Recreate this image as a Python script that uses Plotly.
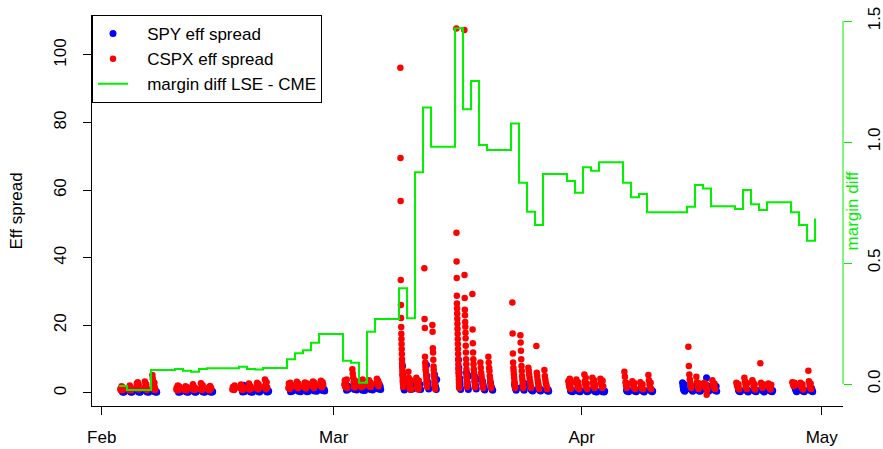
import plotly.graph_objects as go
import pandas as pd

# ---------------- data ----------------
CSPX_SESSION = ("08:00", "16:30")   # UTC, LSE hours
SPY_SESSION = ("14:30", "21:00")    # UTC, NYSE hours

CSPX = {
    "2020-02-03": [1.2, 0.8, 1.5, 2.0, 1.0, 1.3, 0.9, 1.6],
    "2020-02-04": [1.0, 1.4, 0.9, 2.2, 1.1, 1.7, 0.8],
    "2020-02-05": [1.5, 2.8, 1.2, 3.2, 1.8, 2.4, 1.0],
    "2020-02-06": [1.3, 3.4, 2.0, 1.1, 2.6, 1.5, 0.9],
    "2020-02-07": [5.3, 4.2, 1.4, 2.2, 1.0, 3.0, 1.6, 0.9],
    "2020-02-10": [1.0, 1.6, 0.8, 2.2, 1.3, 0.9, 1.9],
    "2020-02-11": [0.9, 1.4, 2.0, 1.1, 0.8, 1.7],
    "2020-02-12": [1.2, 2.6, 1.0, 1.8, 0.9, 1.5],
    "2020-02-13": [1.1, 2.9, 1.6, 0.9, 2.3, 1.3],
    "2020-02-14": [1.0, 1.7, 0.8, 2.1, 1.2, 1.5],
    "2020-02-17": [1.0, 1.8, 1.3, 0.9, 2.2, 1.5],
    "2020-02-18": [1.4, 2.5, 1.1, 1.9, 0.9, 1.6],
    "2020-02-19": [1.2, 2.8, 1.6, 1.0, 2.0, 1.3],
    "2020-02-20": [1.5, 3.0, 2.2, 1.1, 2.6, 1.4],
    "2020-02-21": [1.8, 4.0, 2.4, 1.2, 3.2, 1.6],
    "2020-02-24": [1.5, 2.8, 2.0, 1.2, 3.0, 1.7, 2.4],
    "2020-02-25": [1.8, 3.3, 2.2, 1.4, 2.7, 1.9],
    "2020-02-26": [1.6, 3.1, 2.5, 1.3, 2.0, 2.8],
    "2020-02-27": [2.0, 3.4, 2.6, 1.5, 3.0, 2.2],
    "2020-02-28": [2.2, 3.6, 2.8, 1.7, 3.2, 2.4],
    "2020-03-02": [2.5, 3.8, 1.8, 3.0, 2.2, 4.0, 1.5],
    "2020-03-03": [7.0, 5.8, 4.6, 3.2, 2.0, 2.8, 1.6, 3.6],
    "2020-03-04": [2.2, 3.5, 1.7, 2.8, 4.0, 2.0],
    "2020-03-05": [2.6, 3.8, 2.0, 3.2, 1.8, 2.4],
    "2020-03-06": [3.0, 4.2, 2.4, 3.6, 2.0, 2.8],
    "2020-03-09": [96.2, 69.5, 56.8, 33.4, 26.0, 22.2, 19.5, 17.5, 16.0, 14.5, 13.0,
                   11.5, 10.0, 8.8, 7.5, 6.5, 5.5, 4.8, 4.0, 3.2, 2.5, 1.8],
    "2020-03-10": [6.3, 4.5, 3.2, 2.0, 1.2, 2.6, 1.6, 3.8, 1.0],
    "2020-03-11": [4.5, 3.2, 2.0, 1.4, 2.6, 1.0, 3.6, 1.8],
    "2020-03-12": [36.9, 21.9, 19.2, 10.7, 9.0, 8.0, 7.0, 6.5, 5.5, 4.5, 3.5, 3.0, 2.5, 1.8],
    "2020-03-13": [20.1, 18.1, 13.2, 12.0, 9.8, 7.8, 6.8, 5.5, 4.5, 3.5, 2.5, 1.8, 1.2],
    "2020-03-16": [107.8, 47.4, 38.9, 34.0, 28.8, 26.5, 25.0, 23.5, 22.0, 20.5, 19.0, 17.5,
                   16.0, 14.5, 13.0, 11.5, 10.0, 8.5, 7.0, 6.0, 5.0, 4.0, 3.0, 2.0, 1.5],
    "2020-03-17": [107.4, 34.9, 28.1, 24.6, 23.0, 21.0, 19.6, 17.8, 16.2, 14.0, 12.0, 10.0,
                   8.5, 7.0, 5.5, 4.5, 3.5, 2.5, 1.8],
    "2020-03-18": [29.3, 18.8, 14.7, 12.0, 10.0, 8.5, 7.0, 6.0, 5.0, 4.0, 3.0, 2.2, 1.6],
    "2020-03-19": [9.0, 7.5, 6.0, 5.0, 4.0, 3.0, 2.2, 1.5],
    "2020-03-20": [10.7, 9.0, 7.5, 6.5, 5.0, 4.0, 3.0, 2.0, 1.5],
    "2020-03-23": [26.8, 17.6, 11.7, 9.0, 7.5, 6.5, 5.5, 4.5, 3.5, 2.8, 2.0, 1.5],
    "2020-03-24": [17.1, 14.9, 12.5, 10.0, 8.0, 6.5, 5.0, 4.0, 3.0, 2.2, 1.5],
    "2020-03-25": [7.5, 6.5, 5.5, 4.5, 3.5, 2.8, 2.0, 1.5],
    "2020-03-26": [13.9, 6.0, 5.0, 4.0, 3.2, 2.5, 1.8, 1.2],
    "2020-03-27": [6.8, 5.0, 4.0, 3.0, 2.5, 1.8, 1.2],
    "2020-03-30": [3.5, 2.5, 1.8, 4.2, 2.0, 1.2, 3.0],
    "2020-03-31": [4.0, 2.8, 1.6, 3.2, 2.2, 1.2],
    "2020-04-01": [5.5, 3.5, 2.4, 4.5, 1.8, 2.8, 1.2],
    "2020-04-02": [4.5, 3.0, 2.0, 3.8, 1.5, 2.5],
    "2020-04-03": [4.2, 3.2, 2.2, 1.5, 3.6, 2.0],
    "2020-04-06": [6.3, 4.8, 3.2, 2.2, 1.5, 2.8],
    "2020-04-07": [3.5, 2.4, 1.6, 2.9, 1.2],
    "2020-04-08": [3.2, 2.0, 1.4, 2.6, 1.1],
    "2020-04-09": [5.3, 3.8, 2.5, 1.6, 3.0, 1.2],
    "2020-04-14": [13.7, 8.0, 5.5, 4.0, 3.0, 2.2, 1.5],
    "2020-04-15": [4.8, 3.2, 2.5, 1.8, 1.2, 2.8],
    "2020-04-16": [3.0, 2.2, 1.5, 2.6, -0.5, 1.0],
    "2020-04-17": [3.8, 2.4, 1.6, 2.8, 1.2],
    "2020-04-20": [3.0, 2.2, 1.5, 2.6, 1.1],
    "2020-04-21": [4.5, 3.5, 2.5, 1.8, 1.2, 2.9],
    "2020-04-22": [3.8, 3.2, 2.0, 1.4, 2.6, 1.0],
    "2020-04-23": [8.8, 3.0, 2.2, 1.5, 2.6],
    "2020-04-24": [2.8, 2.0, 1.4, 1.0, 2.4],
    "2020-04-27": [3.2, 2.6, 2.0, 3.0, 2.4],
    "2020-04-28": [3.0, 2.2, 1.5, 2.6, 1.0],
    "2020-04-29": [6.6, 3.5, 2.4, 1.6, 2.8, 1.2],
}

SPY = {
    "2020-02-03": [0.3, 0.5, 0.2, 0.4, 0.6],
    "2020-02-04": [0.4, 0.2, 0.5, 0.3, 0.6],
    "2020-02-05": [0.3, 0.6, 0.4, 0.2, 0.5],
    "2020-02-06": [0.5, 0.3, 0.4, 0.6, 0.2],
    "2020-02-07": [0.4, 0.6, 0.3, 0.5, 0.2],
    "2020-02-10": [0.2, 0.5, 0.3, 0.6, 0.4],
    "2020-02-11": [0.3, 0.4, 0.6, 0.2, 0.5],
    "2020-02-12": [0.4, 0.2, 0.5, 0.3, 0.6],
    "2020-02-13": [0.5, 0.3, 0.6, 0.4, 0.2],
    "2020-02-14": [0.3, 0.5, 0.2, 0.6, 0.4],
    "2020-02-18": [0.3, 0.6, 2.3, 0.4, 0.5],
    "2020-02-19": [0.3, 0.5, 0.4, 0.7, 0.2],
    "2020-02-20": [0.4, 0.6, 0.3, 0.5, 0.7],
    "2020-02-21": [0.5, 0.3, 0.7, 0.4, 0.6],
    "2020-02-24": [0.4, 0.8, 0.5, 1.0, 0.6],
    "2020-02-25": [0.5, 0.9, 0.6, 0.8, 0.4],
    "2020-02-26": [0.6, 0.4, 0.9, 0.7, 0.5],
    "2020-02-27": [0.6, 1.2, 0.8, 1.0, 0.5],
    "2020-02-28": [0.7, 1.4, 0.9, 1.1, 0.6],
    "2020-03-02": [0.8, 1.5, 1.0, 2.0, 1.2],
    "2020-03-03": [1.0, 1.8, 1.2, 2.2, 0.9],
    "2020-03-04": [0.8, 1.4, 1.0, 1.8, 0.7],
    "2020-03-05": [1.0, 2.0, 1.3, 1.6, 0.9],
    "2020-03-06": [1.2, 2.5, 1.5, 2.0, 1.0],
    "2020-03-09": [8.0, 5.5, 3.5, 2.0, 1.2, 0.9, 1.5],
    "2020-03-10": [1.0, 2.2, 1.5, 3.0, 1.2],
    "2020-03-11": [1.2, 2.0, 1.5, 2.5, 1.0],
    "2020-03-12": [8.3, 5.0, 3.5, 2.5, 1.8, 1.2],
    "2020-03-13": [5.5, 3.0, 2.0, 1.5, 1.0, 4.0],
    "2020-03-16": [9.8, 7.5, 6.0, 4.5, 3.5, 2.5, 1.5, 1.0],
    "2020-03-17": [6.0, 4.5, 3.0, 2.0, 1.5, 1.0, 5.0],
    "2020-03-18": [5.0, 3.5, 2.5, 1.8, 1.2, 4.2],
    "2020-03-19": [3.5, 2.5, 1.8, 1.2, 0.9],
    "2020-03-20": [3.0, 2.0, 1.5, 1.0, 0.8],
    "2020-03-23": [2.5, 1.8, 1.2, 0.8, 1.5],
    "2020-03-24": [2.0, 1.5, 1.0, 0.8, 2.8],
    "2020-03-25": [1.8, 1.2, 0.8, 1.0, 0.6],
    "2020-03-26": [1.5, 1.0, 0.8, 1.2, 0.6],
    "2020-03-27": [1.2, 0.8, 0.6, 1.0, 0.5],
    "2020-03-30": [0.6, 1.0, 0.5, 0.8, 0.4],
    "2020-03-31": [0.5, 0.9, 0.6, 0.4, 0.7],
    "2020-04-01": [0.6, 0.4, 0.8, 0.5, 0.7],
    "2020-04-02": [0.5, 0.8, 0.4, 0.6, 0.3],
    "2020-04-03": [0.4, 0.7, 0.5, 0.3, 0.6],
    "2020-04-06": [0.8, 0.5, 1.0, 0.6, 0.4],
    "2020-04-07": [0.7, 0.5, 0.9, 0.4, 0.6],
    "2020-04-08": [0.6, 0.9, 0.5, 0.3, 0.7],
    "2020-04-09": [0.7, 1.0, 0.5, 0.4, 0.6],
    "2020-04-13": [3.0, 2.0, 1.2, 0.8, 2.5, 0.5],
    "2020-04-14": [1.5, 1.0, 2.0, 0.8, 0.5],
    "2020-04-15": [1.0, 0.6, 1.4, 0.5, 0.8],
    "2020-04-16": [4.5, 1.2, 0.8, 2.0, 0.5],
    "2020-04-17": [1.0, 0.7, 1.5, 2.0, 0.5],
    "2020-04-20": [0.8, 0.5, 1.0, 0.4, 0.6],
    "2020-04-21": [0.7, 0.9, 0.5, 0.3, 0.6],
    "2020-04-22": [0.6, 1.0, 0.5, 0.4, 0.8],
    "2020-04-23": [0.7, 0.9, 0.5, 0.3, 0.6],
    "2020-04-24": [0.6, 0.8, 0.5, 0.4, 0.7],
    "2020-04-27": [2.5, 1.5, 1.0, 0.6, 0.4],
    "2020-04-28": [0.8, 0.5, 1.0, 0.4, 0.6],
    "2020-04-29": [1.0, 0.6, 1.4, 0.8, 0.4],
}

MARGIN_TIME = "04:00"
MARGIN_DATES = [
    "2020-02-03", "2020-02-04", "2020-02-05", "2020-02-06", "2020-02-07",
    "2020-02-10", "2020-02-11", "2020-02-12", "2020-02-13", "2020-02-14",
    "2020-02-17", "2020-02-18", "2020-02-19", "2020-02-20", "2020-02-21",
    "2020-02-24", "2020-02-25", "2020-02-26", "2020-02-27", "2020-02-28",
    "2020-03-02", "2020-03-03", "2020-03-04", "2020-03-05", "2020-03-06",
    "2020-03-09", "2020-03-10", "2020-03-11", "2020-03-12", "2020-03-13",
    "2020-03-16", "2020-03-17", "2020-03-18", "2020-03-19", "2020-03-20",
    "2020-03-23", "2020-03-24", "2020-03-25", "2020-03-26", "2020-03-27",
    "2020-03-30", "2020-03-31", "2020-04-01", "2020-04-02", "2020-04-03",
    "2020-04-06", "2020-04-07", "2020-04-08", "2020-04-09",
    "2020-04-14", "2020-04-15", "2020-04-16", "2020-04-17",
    "2020-04-20", "2020-04-21", "2020-04-22", "2020-04-23", "2020-04-24",
    "2020-04-27", "2020-04-28", "2020-04-29", "2020-04-30",
]
MARGIN_DIFF = [
    -0.008, -0.025, -0.025, -0.025, 0.058,
    0.062, 0.055, 0.051, 0.062, 0.065,
    0.065, 0.071, 0.062, 0.060, 0.066,
    0.102, 0.127, 0.140, 0.171, 0.207,
    0.096, 0.088, 0.005, 0.216, 0.269,
    0.396, 0.272, 0.875, 1.143, 0.980,
    1.470, 1.135, 1.252, 0.988, 0.967,
    1.077, 0.832, 0.712, 0.657, 0.868,
    0.839, 0.790, 0.896, 0.881, 0.916,
    0.832, 0.772, 0.785, 0.710,
    0.733, 0.822, 0.808, 0.735,
    0.723, 0.802, 0.743, 0.719, 0.751,
    0.710, 0.657, 0.592, 0.684,
]

MONTH_TICKS = ["2020-02-01", "2020-03-01", "2020-04-01", "2020-05-01"]
MONTH_LABELS = ["Feb", "Mar", "Apr", "May"]
LEFT_TICKS = [0, 20, 40, 60, 80, 100]
RIGHT_TICKS = [0.0, 0.5, 1.0, 1.5]
RIGHT_LABELS = ["0.0", "0.5", "1.0", "1.5"]


def expand(series, session):
    xs, ys = [], []
    for day, vals in series.items():
        start = pd.Timestamp(f"{day} {session[0]}")
        end = pd.Timestamp(f"{day} {session[1]}")
        times = pd.date_range(start, end, periods=len(vals)) if len(vals) > 1 else [start]
        xs.extend(times)
        ys.extend(vals)
    return xs, ys


spy_x, spy_y = expand(SPY, SPY_SESSION)
cspx_x, cspx_y = expand(CSPX, CSPX_SESSION)
margin_x = [pd.Timestamp(f"{d} {MARGIN_TIME}") for d in MARGIN_DATES]

FONT = "Liberation Sans, Arial, Helvetica, sans-serif"
FS = 17
GREEN = "#00f000"
PAD = "\u00a0\u00a0\u00a0"

fig = go.Figure()
fig.add_trace(go.Scatter(x=spy_x, y=spy_y, mode="markers", name=PAD + "SPY eff spread",
                         marker=dict(color="#0000ff", size=7, line=dict(width=0))))
fig.add_trace(go.Scatter(x=cspx_x, y=cspx_y, mode="markers", name=PAD + "CSPX eff spread",
                         marker=dict(color="#ff0000", size=6.5, line=dict(width=0))))
fig.add_trace(go.Scatter(x=margin_x, y=MARGIN_DIFF, mode="lines",
                         name=PAD + "margin diff LSE - CME",
                         line=dict(color=GREEN, width=2, shape="hv"), yaxis="y2"))

fig.update_layout(
    width=883, height=449,
    margin=dict(l=92, r=40, t=15, b=43, pad=0, autoexpand=False),
    paper_bgcolor="white", plot_bgcolor="white",
    font=dict(family=FONT, size=FS, color="#000"),
    showlegend=True,
    legend=dict(x=0, y=1, xanchor="left", yanchor="top",
                bgcolor="white", bordercolor="#000", borderwidth=1,
                font=dict(family=FONT, size=FS, color="#000"),
                tracegroupgap=0),
    xaxis=dict(type="date", range=["2020-01-30 18:54", "2020-05-03 15:54"], automargin=False,
               tickvals=MONTH_TICKS, ticktext=MONTH_LABELS,
               showgrid=False, zeroline=False, showline=True, linecolor="#000", linewidth=1,
               ticks="outside", ticklen=8, tickcolor="#000", ticklabelstandoff=8,
               tickfont=dict(family=FONT, size=FS, color="#000")),
    yaxis=dict(range=[-3.85, 111.83], tickvals=LEFT_TICKS, automargin=False,
               showgrid=False, zeroline=False, showline=True, linecolor="#000", linewidth=1,
               ticks="outside", ticklen=8, tickcolor="#000", tickangle=-90, ticklabelstandoff=10,
               tickfont=dict(family=FONT, size=FS, color="#000")),
    yaxis2=dict(range=[-0.0909, 1.525], overlaying="y", side="right", automargin=False,
                tickvals=RIGHT_TICKS, ticktext=RIGHT_LABELS,
                showgrid=False, zeroline=False, showline=False,
                ticks="outside", ticklen=8, tickcolor=GREEN, tickangle=-90, ticklabelstandoff=8,
                tickfont=dict(family=FONT, size=FS, color="#000")),
    shapes=[dict(type="line", xref="paper", yref="y2", x0=1, x1=1, y0=0, y1=1.5,
                 line=dict(color=GREEN, width=1))],
    annotations=[
        dict(text="Eff spread", xref="paper", yref="paper", x=-0.0999, y=0.5,
             textangle=-90, showarrow=False, xanchor="center", yanchor="middle",
             font=dict(family=FONT, size=FS, color="#000")),
        dict(text="margin diff", xref="paper", yref="paper", x=1.0133, y=0.5,
             textangle=-90, showarrow=False, xanchor="center", yanchor="middle",
             font=dict(family=FONT, size=FS, color=GREEN)),
    ],
)

fig.write_html("out.html")
